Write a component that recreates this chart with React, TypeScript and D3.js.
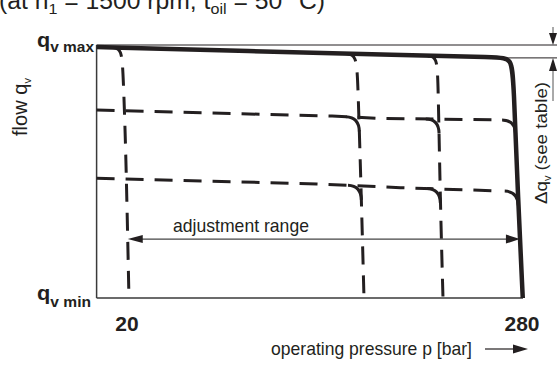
import React from "react";
import * as d3 from "d3";

const W = 557;
const H = 365;

// operating pressure p [bar] and flow (percent of q_v max)
const pressureDomain: [number, number] = [0, 280];
const pressureTicks = [20, 280];
const flowDomain: [number, number] = [0, 100];

// max-flow characteristic with the 280 bar cut-off (solid)
const maxCurve: [number, number][] = [
  [0, 99.2], [100, 97.6], [200, 96.0], [265, 95.2], [273, 94.6], [274.5, 86], [277.4, 38.7], [280.5, 0],
];

// pressure cut-off settings (dashed verticals)
const cutoffLow: [number, number][] = [[10.8, 99.0], [16.5, 98.6], [17.5, 88], [19.2, 60], [21.3, 0]];
const cutoffMid: [number, number][] = [[164, 96.6], [171, 96.3], [172, 85], [174.3, 38.7], [176, 0]];
const cutoffHigh: [number, number][] = [[218, 95.7], [224, 95.5], [224.8, 85], [226.2, 38.7], [228, 0]];

// flow settings (dashed horizontals)
const flowUpper: [number, number][] = [[0, 74.3], [155, 71.9], [186, 71.0], [266, 70.4]];
const flowLower: [number, number][] = [[0, 47.3], [145, 45.1], [200, 43.6], [266, 42.3]];

// level of the adjustment-range arrow, and the two Δq_v reference levels
const adjustLevel = 23.3;
const deltaLevels = [100, 94.9];

const INK = "#231f20";
const FONT = "'Liberation Sans', Arial, sans-serif";

const x = d3.scaleLinear().domain(pressureDomain).range([96.6, 522]);
const y = d3.scaleLinear().domain(flowDomain).range([298, 45]);

const smooth = d3.line<[number, number]>().x((d) => x(d[0])).y((d) => y(d[1])).curve(d3.curveBasis);
const straight = d3.line<[number, number]>().x((d) => x(d[0])).y((d) => y(d[1]));

// flow on a flow-setting line at pressure p (points sorted by pressure)
function flowAt(pts: [number, number][], p: number): number {
  let i = 0;
  while (i < pts.length - 2 && p > pts[i + 1][0]) i++;
  const [p0, q0] = pts[i];
  const [p1, q1] = pts[i + 1];
  return q0 + ((q1 - q0) * (p - p0)) / (p1 - p0);
}

// pressure on a cut-off line at flow q (points sorted by falling flow)
function pressureAt(pts: [number, number][], q: number): number {
  let i = 0;
  while (i < pts.length - 2 && q < pts[i + 1][1]) i++;
  const [p0, q0] = pts[i];
  const [p1, q1] = pts[i + 1];
  return p0 + ((p1 - p0) * (q - q0)) / (q1 - q0);
}

// rounded transition where a flow setting turns into a pressure cut-off
function hook(flow: [number, number][], cut: [number, number][]): string {
  let p = cut[cut.length - 1][0];
  for (let k = 0; k < 8; k++) p = pressureAt(cut, flowAt(flow, p));
  const X = x(p);
  const Y = y(flowAt(flow, p));
  const xs = X - 13;
  const ys = y(flowAt(flow, x.invert(xs)));
  const ye = Y + 14;
  const xe = x(pressureAt(cut, y.invert(ye)));
  const path = d3.path();
  path.moveTo(xs, ys);
  path.quadraticCurveTo(X, Y, xe, ye);
  return path.toString();
}

const hooks: [[number, number][], [number, number][]][] = [
  [flowUpper, cutoffMid],
  [flowUpper, cutoffHigh],
  [flowUpper, maxCurve],
  [flowLower, cutoffMid],
  [flowLower, cutoffHigh],
  [flowLower, maxCurve],
];

export default function App() {
  const yTop = y(deltaLevels[0]);
  const yDelta = y(deltaLevels[1]);
  const yAdj = y(adjustLevel);
  const adjLeft = x(pressureAt(cutoffLow, adjustLevel));
  const adjRight = x(pressureAt(maxCurve, adjustLevel));
  const dimX = 553;

  return (
    <svg
      width={W}
      height={H}
      viewBox={`0 0 ${W} ${H}`}
      style={{ position: "absolute", left: 0, top: 0, background: "#fff" }}
      fontFamily={FONT}
      fill={INK}
    >
      {/* operating conditions */}
      <text x={-1} y={9} fontSize={23} textLength={326} lengthAdjust="spacingAndGlyphs">
        (at n<tspan dy={5} fontSize={15}>1</tspan>
        <tspan dy={-5}> = 1500 rpm, t</tspan>
        <tspan dy={5} fontSize={15}>oil</tspan>
        <tspan dy={-5}> = 50 °C)</tspan>
      </text>

      {/* axes */}
      <line x1={x(0)} x2={x(0)} y1={y(100)} y2={y(0)} stroke="#3a3a3a" strokeWidth={1.5} />
      <line x1={x(0)} x2={x(280) + 1} y1={y(0)} y2={y(0)} stroke="#3a3a3a" strokeWidth={1.5} />

      {/* Δq_v reference lines */}
      <line x1={x(0)} x2={W} y1={yTop} y2={yTop} stroke={INK} strokeWidth={1} />
      <line x1={505} x2={W} y1={yDelta} y2={yDelta} stroke={INK} strokeWidth={1} />
      <line x1={dimX} x2={dimX} y1={27} y2={yTop - 10} stroke="#555" strokeWidth={1} />
      <path d={`M${dimX - 4},${yTop - 12}L${dimX + 4},${yTop - 12}L${dimX},${yTop}Z`} fill={INK} />
      <line x1={dimX} x2={dimX} y1={yDelta + 12} y2={101} stroke="#555" strokeWidth={1} />
      <path d={`M${dimX - 4},${yDelta + 13}L${dimX + 4},${yDelta + 13}L${dimX},${yDelta}Z`} fill={INK} />

      {/* flow settings */}
      {[flowUpper, flowLower].map((f, i) => (
        <path key={`f${i}`} d={straight(f) ?? ""} fill="none" stroke={INK} strokeWidth={3} strokeDasharray="18 11" />
      ))}

      {/* pressure cut-offs */}
      {[cutoffLow, cutoffMid, cutoffHigh].map((c, i) => (
        <path key={`c${i}`} d={smooth(c) ?? ""} fill="none" stroke={INK} strokeWidth={3} strokeDasharray="14 11 18 11 18 11 18 11 18 11 18 11 18 11 18 11 18 11" />
      ))}

      {hooks.map(([f, c], i) => (
        <path key={`h${i}`} d={hook(f, c)} fill="none" stroke={INK} strokeWidth={3} />
      ))}

      {/* max-flow characteristic */}
      <path d={smooth(maxCurve) ?? ""} fill="none" stroke={INK} strokeWidth={4.5} strokeLinejoin="round" />

      {/* adjustment range */}
      <line x1={adjLeft + 10} x2={adjRight - 10} y1={yAdj} y2={yAdj} stroke="#444" strokeWidth={1.2} />
      <path d={`M${adjLeft},${yAdj}L${adjLeft + 15},${yAdj - 4}L${adjLeft + 15},${yAdj + 4}Z`} fill={INK} />
      <path d={`M${adjRight},${yAdj}L${adjRight - 14},${yAdj - 4.5}L${adjRight - 14},${yAdj + 4.5}Z`} fill={INK} />
      <text x={241} y={yAdj - 7.5} fontSize={19} textAnchor="middle" textLength={136} lengthAdjust="spacingAndGlyphs">
        adjustment range
      </text>

      {/* y labels */}
      <text x={37} y={yTop + 1.5} fontWeight="bold" fontSize={21} textLength={57} lengthAdjust="spacingAndGlyphs">
        q<tspan dy={5.5} fontSize={15}>v max</tspan>
      </text>
      <text x={37} y={y(0) + 2} fontWeight="bold" fontSize={21} textLength={54} lengthAdjust="spacingAndGlyphs">
        q<tspan dy={7} fontSize={15}>v min</tspan>
      </text>
      <text transform="translate(27,107) rotate(-90)" fontSize={20} textAnchor="middle" textLength={58} lengthAdjust="spacingAndGlyphs">
        flow q<tspan dy={4} fontSize={11}>v</tspan>
      </text>

      {/* x tick labels */}
      {pressureTicks.map((t) => (
        <text key={t} x={x(t)} y={331} fontWeight="bold" fontSize={21} textAnchor="middle">
          {t}
        </text>
      ))}

      {/* x title with arrow */}
      <text x={271} y={355} fontSize={19} textLength={201} lengthAdjust="spacingAndGlyphs">
        operating pressure p [bar]
      </text>
      <line x1={485} x2={516} y1={349} y2={349} stroke={INK} strokeWidth={1.2} />
      <path d="M528,349L513,344.5L513,353.5Z" fill={INK} />

      {/* Δq_v label */}
      <text transform="translate(547,143) rotate(-90)" fontSize={17} textAnchor="middle" textLength={122} lengthAdjust="spacingAndGlyphs">
        Δq<tspan dy={4} fontSize={10}>v</tspan>
        <tspan dy={-4}> (see table)</tspan>
      </text>
    </svg>
  );
}
